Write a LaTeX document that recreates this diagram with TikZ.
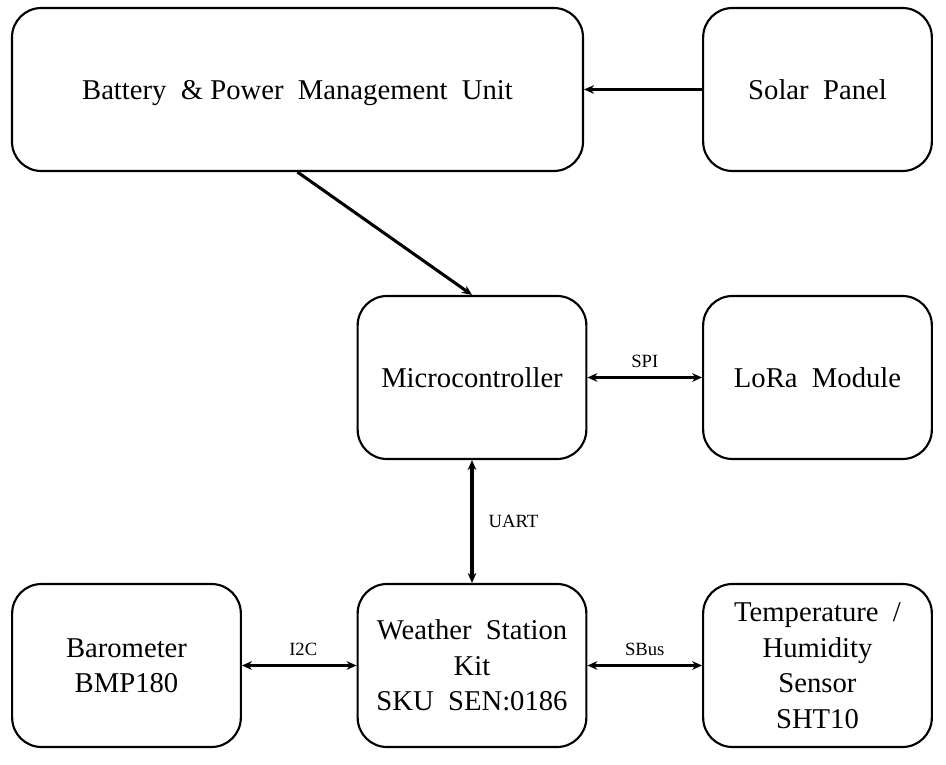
\documentclass[tikz,border=0pt]{standalone}
\usepackage{fontspec}
\setmainfont{Liberation Serif}
\usetikzlibrary{arrows.meta}
\begin{document}
\begin{tikzpicture}[
		x=0.75pt, y=-0.75pt,
		>={Stealth[length=7.5pt, width=6.5pt]}, line width=2pt,
		blocco/.style={draw=black, rounded corners=22pt, line width=1.6pt,
			align=center, inner sep=0pt, minimum height=122.25pt,
			text depth=-3pt, font=\fontsize{21.5}{26.6}\selectfont},
		bloccoS/.style={blocco, minimum width=171.5pt},
		link/.style={line width=2.3pt},
		etich/.style={font=\fontsize{14}{16}\selectfont}]
	\useasboundingbox (0,0) rectangle (946,764);
	\def\yA{89.5}
	\def\yB{377.5}
	\def\yC{665.5}
	
	%% riga alta: alimentazione
	\node[blocco, minimum width=428.25pt] (batt) at (297.5,\yA) {Battery \ \& Power\ \ Management\ \ Unit};
	\node[bloccoS] (solar) at (817.5,\yA) {Solar\ \ Panel};
	
	%% riga centrale
	\node[bloccoS] (mcu) at (472,\yB) {Microcontroller};
	\node[bloccoS] (lora) at (817.5,\yB) {LoRa\ \ Module};
	
	%% riga bassa: sensori
	\node[bloccoS] (baro) at (126.5,\yC) {Barometer\\BMP180};
	\node[bloccoS] (wsk) at (472,\yC) {Weather\ \ Station\\Kit\\SKU\ \ SEN:0186};
	\node[bloccoS] (temp) at (817.5,\yC) {Temperature\ \ /\\Humidity\\Sensor\\SHT10};
	
	%% collegamenti
	\draw[link, ->] (solar) -- (batt);
	\draw[link, ->] (batt.south) -- (mcu.north);
	\draw[link, <->] (mcu) -- node[etich, above=3pt] {SPI} (lora);
	\draw[link, <->] (mcu) -- node[etich, right=8pt] {UART} (wsk);
	\draw[link, <->] (baro) -- node[etich, above=3pt, xshift=3pt] {I2C} (wsk);
	\draw[link, <->] (wsk) -- node[etich, above=3pt] {SBus} (temp);
\end{tikzpicture}
\end{document}
